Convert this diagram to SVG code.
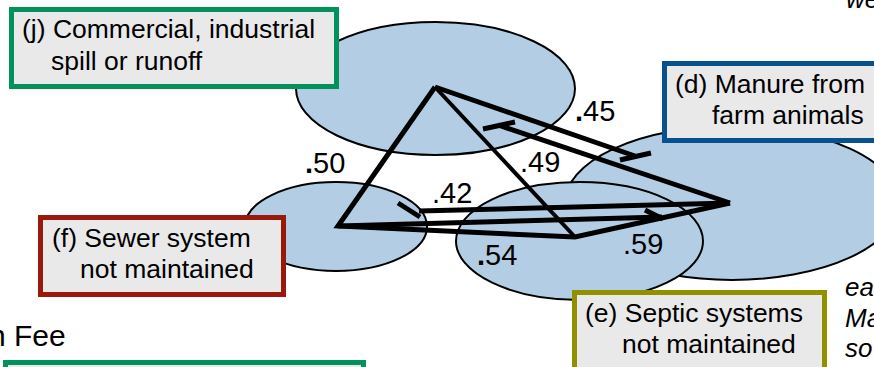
<svg xmlns="http://www.w3.org/2000/svg" width="874" height="367" viewBox="0 0 874 367">
<style>
  text { font-family: "Liberation Sans", Arial, sans-serif; fill: #000; }
  .blob { fill: #b3cee4; stroke: #000; stroke-width: 2; }
  .box { fill: #e9e9e9; stroke-width: 5; }
  .lbl { font-size: 26.5px; }
  .num { font-size: 29px; }
  .it { font-size: 26px; font-style: italic; }
  .ln { fill: none; stroke: #000; stroke-width: 5; stroke-linejoin: miter; stroke-linecap: butt; }
  .thin { stroke-width: 4; }
</style>

<g id="node-d">
  <ellipse class="blob" cx="732" cy="203" rx="167" ry="77"/>
  <rect class="box" x="664.5" y="63.5" width="250" height="77" stroke="#06528f"/>
  <text class="lbl" x="675" y="93">(d) Manure from</text>
  <text class="lbl" x="712" y="124">farm animals</text>
</g>

<g id="node-e">
  <ellipse class="blob" cx="579.5" cy="241" rx="123.5" ry="59"/>
  <rect class="box" x="574.5" y="292.5" width="250" height="90" stroke="#919100"/>
  <text class="lbl" x="585" y="322">(e) Septic systems</text>
  <text class="lbl" x="622" y="353">not maintained</text>
</g>

<g id="node-j">
  <ellipse class="blob" cx="435.5" cy="88.5" rx="139.5" ry="66.5"/>
  <rect class="box" x="11.5" y="9.5" width="325" height="77" stroke="#00925a"/>
  <text class="lbl" x="22" y="38">(j) Commercial, industrial</text>
  <text class="lbl" x="51" y="70">spill or runoff</text>
</g>

<g id="node-f">
  <ellipse class="blob" cx="336" cy="226.5" rx="91" ry="44.5"/>
  <rect class="box" x="40.5" y="217.5" width="243" height="77" stroke="#991a0d"/>
  <text class="lbl" x="52" y="247">(f) Sewer system</text>
  <text class="lbl" x="80" y="278">not maintained</text>
</g>

<g id="node-extra">
  <rect class="box" x="5.5" y="362.5" width="358" height="40" stroke="#00925a"/>
  <text x="-11" y="346" font-size="30">n Fee</text>
  <text class="it" x="846" y="8">we</text>
  <text class="it" x="845" y="296">ea</text>
  <text class="it" x="845" y="327">Ma</text>
  <text class="it" x="845" y="357">so</text>
</g>

<g id="connectors">
  <path class="ln thin" d="M575 237 L435 87"/>
  <path class="ln" d="M435 87 L338 226 L575 237 L730 203"/>
  <path class="ln" d="M435 87 L635 156"/>
  <path class="ln" d="M620 160 L651 153"/>
  <path class="ln" d="M730 203 L498 125"/>
  <path class="ln" d="M483 129 L515 122"/>
  <path class="ln" d="M338 226 L662 217"/>
  <path class="ln" d="M645 210 L663 219"/>
  <path class="ln" d="M730 203 L419 211"/>
  <path class="ln" d="M398 203 L420 217"/>
</g>

<g id="edge-labels">
  <text class="num" x="305" y="173"><tspan font-weight="bold">.</tspan>50</text>
  <text class="num" x="575" y="121"><tspan font-weight="bold">.</tspan>45</text>
  <text class="num" x="520" y="172">.49</text>
  <text class="num" x="432" y="203">.42</text>
  <text class="num" x="477" y="265"><tspan font-weight="bold">.</tspan>54</text>
  <text class="num" x="623" y="254">.59</text>
</g>
</svg>
